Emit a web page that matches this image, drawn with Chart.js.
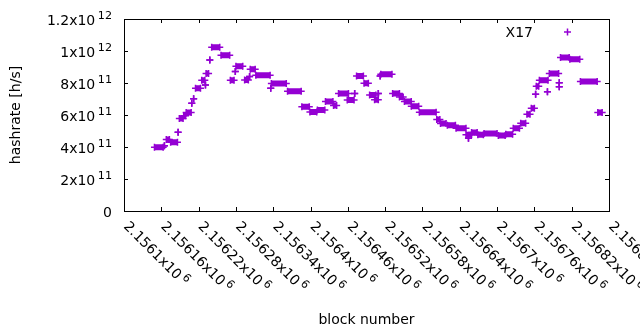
<!DOCTYPE html>
<html>
<head>
<meta charset="utf-8">
<title>X17 hashrate</title>
<script src="https://cdn.jsdelivr.net/npm/chart.js@4.4.1/dist/chart.umd.min.js"></script>
<style>
    html, body { margin: 0; padding: 0; background: #fff; }
    #chart { display: block; }
</style>
</head>
<body>
<canvas id="chart" width="640" height="330"></canvas>
<script>
// Each run is a stretch of blocks that share the same hashrate value
const runStart = [
    2156149, 2156165, 2156168, 2156175, 2156187, 2156189, 2156196, 2156200, 2156209, 2156212,
    2156215, 2156225, 2156231, 2156232, 2156238, 2156241, 2156256, 2156271, 2156279, 2156280,
    2156294, 2156302, 2156303, 2156312, 2156336, 2156337, 2156363, 2156386, 2156399, 2156411,
    2156424, 2156437, 2156445, 2156459, 2156471, 2156474, 2156486, 2156495, 2156503, 2156509,
    2156512, 2156513, 2156532, 2156543, 2156551, 2156562, 2156575, 2156603, 2156609, 2156620,
    2156634, 2156650, 2156654, 2156659, 2156669, 2156679, 2156702, 2156714, 2156726, 2156738,
    2156748, 2156755, 2156762, 2156763, 2156768, 2156781, 2156784, 2156800, 2156800, 2156802,
    2156817, 2156834, 2156862
];
const runEnd = [
    2156163, 2156165, 2156173, 2156186, 2156187, 2156195, 2156199, 2156208, 2156209, 2156212,
    2156223, 2156230, 2156231, 2156236, 2156238, 2156254, 2156270, 2156277, 2156279, 2156291,
    2156300, 2156302, 2156311, 2156335, 2156336, 2156361, 2156385, 2156398, 2156410, 2156423,
    2156436, 2156442, 2156461, 2156470, 2156471, 2156485, 2156493, 2156505, 2156509, 2156509,
    2156512, 2156531, 2156543, 2156549, 2156562, 2156574, 2156602, 2156608, 2156618, 2156633,
    2156650, 2156659, 2156654, 2156668, 2156678, 2156700, 2156713, 2156725, 2156736, 2156746,
    2156753, 2156760, 2156762, 2156767, 2156782, 2156781, 2156799, 2156800, 2156800, 2156816,
    2156833, 2156861, 2156869
];
const runValue = [
    3.98e11, 4.08e11, 4.47e11, 4.29e11, 4.92e11, 5.78e11, 5.95e11, 6.15e11, 6.73e11, 7.02e11,
    7.67e11, 8.17e11, 7.88e11, 8.6e11, 9.44e11, 10.24e11, 9.73e11, 8.17e11, 8.72e11, 9.04e11,
    8.19e11, 8.4e11, 8.86e11, 8.49e11, 7.67e11, 7.97e11, 7.48e11, 6.52e11, 6.19e11, 6.31e11,
    6.85e11, 6.6e11, 7.35e11, 6.94e11, 7.35e11, 8.43e11, 7.98e11, 7.25e11, 6.95e11, 7.35e11,
    8.44e11, 8.54e11, 7.35e11, 7.13e11, 6.85e11, 6.54e11, 6.17e11, 5.72e11, 5.47e11, 5.36e11,
    5.17e11, 4.77e11, 4.54e11, 4.9e11, 4.77e11, 4.85e11, 4.72e11, 4.79e11, 5.17e11, 5.48e11,
    6.05e11, 6.42e11, 7.3e11, 7.8e11, 8.17e11, 7.45e11, 8.6e11, 8.02e11, 7.77e11, 9.59e11,
    9.48e11, 8.1e11, 6.15e11
];

// Axis ticks
const xTickValues = [
    2156100, 2156160, 2156220, 2156280, 2156340, 2156400, 2156460,
    2156520, 2156580, 2156640, 2156700, 2156760, 2156820, 2156880
];
const xTickLabels = [
    '2.1561x10', '2.15616x10', '2.15622x10', '2.15628x10', '2.15634x10', '2.1564x10', '2.15646x10',
    '2.15652x10', '2.15658x10', '2.15664x10', '2.1567x10', '2.15676x10', '2.15682x10', '2.15688x10'
];
const xTickExponent = '6';
const yTickValues = [0, 2e11, 4e11, 6e11, 8e11, 1e12, 1.2e12];
const yTickLabels = ['0', '2x10', '4x10', '6x10', '8x10', '1x10', '1.2x10'];
const yTickExponents = ['', '11', '11', '11', '11', '12', '12'];

const seriesLabel = 'X17';
const xTitle = 'block number';
const yTitle = 'hashrate [h/s]';

const PURPLE = '#9400d3';
const FONT = '"DejaVu Sans", sans-serif';
const TICK = 4;
const SUP_GAP = 2.5;
const SUP_RISE = 5.5;

// Two points per run, then a null to break the line before the next run
const points = [];
runStart.forEach((start, i) => {
    points.push({ x: start, y: runValue[i] });
    points.push({ x: runEnd[i], y: runValue[i] });
    points.push({ x: runEnd[i], y: null });
});

// Text like 1x10 with a raised exponent
function powerWidth(ctx, base, exp) {
    ctx.font = '14px ' + FONT;
    let w = ctx.measureText(base).width;
    if (exp) {
        ctx.font = '11.2px ' + FONT;
        w += SUP_GAP + ctx.measureText(exp).width;
    }
    return w;
}

function drawPower(ctx, base, exp, x, y) {
    ctx.font = '14px ' + FONT;
    ctx.fillText(base, x, y);
    if (!exp) return;
    const w = ctx.measureText(base).width;
    ctx.font = '11.2px ' + FONT;
    ctx.fillText(exp, x + w + SUP_GAP, y - SUP_RISE);
}

// Frame, mirrored inward ticks, tick labels, titles and key in gnuplot style
const gnuplotAxes = {
    id: 'gnuplotAxes',
    beforeDatasetsDraw(chart) {
        const { ctx, chartArea: area, scales: { x, y } } = chart;
        ctx.save();
        ctx.strokeStyle = '#000';
        ctx.fillStyle = '#000';
        ctx.lineWidth = 1;

        ctx.beginPath();
        yTickValues.forEach(v => {
            const py = Math.round(y.getPixelForValue(v)) + 0.5;
            ctx.moveTo(area.left, py);
            ctx.lineTo(area.left + TICK, py);
            ctx.moveTo(area.right, py);
            ctx.lineTo(area.right - TICK, py);
        });
        xTickValues.forEach(v => {
            const px = Math.round(x.getPixelForValue(v)) + 0.5;
            ctx.moveTo(px, area.bottom);
            ctx.lineTo(px, area.bottom - TICK);
            ctx.moveTo(px, area.top);
            ctx.lineTo(px, area.top + TICK);
        });
        ctx.stroke();
        ctx.strokeRect(area.left + 0.5, area.top + 0.5, area.right - area.left, area.bottom - area.top);

        // y tick labels, right aligned
        ctx.textAlign = 'left';
        ctx.textBaseline = 'alphabetic';
        yTickValues.forEach((v, i) => {
            const py = y.getPixelForValue(v);
            const w = powerWidth(ctx, yTickLabels[i], yTickExponents[i]);
            drawPower(ctx, yTickLabels[i], yTickExponents[i], 112 - w, py + 5.7);
        });

        // x tick labels, rotated down to the right
        xTickValues.forEach((v, i) => {
            const px = x.getPixelForValue(v);
            ctx.save();
            ctx.translate(px - 1, 227);
            ctx.rotate(Math.PI / 4);
            drawPower(ctx, xTickLabels[i], xTickExponent, 0, 0);
            ctx.restore();
        });

        // axis titles
        ctx.font = '14px ' + FONT;
        ctx.textAlign = 'center';
        ctx.fillText(xTitle, (area.left + area.right) / 2, 323.5);
        ctx.save();
        ctx.translate(20.4, (area.top + area.bottom) / 2);
        ctx.rotate(-Math.PI / 2);
        ctx.fillText(yTitle, 0, 0);
        ctx.restore();

        // key: label then a sample point
        ctx.textAlign = 'right';
        ctx.fillText(seriesLabel, 533, 37);
        ctx.strokeStyle = PURPLE;
        ctx.lineWidth = 1.5;
        ctx.beginPath();
        ctx.moveTo(564, 32);
        ctx.lineTo(571, 32);
        ctx.moveTo(567.5, 28.5);
        ctx.lineTo(567.5, 35.5);
        ctx.stroke();

        ctx.restore();
    }
};

new Chart(document.getElementById('chart'), {
    type: 'scatter',
    data: {
        datasets: [{
            label: seriesLabel,
            data: points,
            showLine: true,
            spanGaps: false,
            borderColor: PURPLE,
            backgroundColor: PURPLE,
            borderWidth: 6,
            borderCapStyle: 'butt',
            pointStyle: 'cross',
            pointRadius: 3.5,
            pointBorderWidth: 1.5,
            pointBorderColor: PURPLE
        }]
    },
    options: {
        responsive: false,
        animation: false,
        devicePixelRatio: 1,
        events: [],
        layout: {
            padding: { left: 124, right: 31, top: 19, bottom: 119 }
        },
        scales: {
            x: { type: 'linear', display: false, min: 2156100, max: 2156880 },
            y: { type: 'linear', display: false, min: 0, max: 1.2e12 }
        },
        plugins: {
            legend: { display: false },
            tooltip: { enabled: false }
        }
    },
    plugins: [gnuplotAxes]
});
</script>
</body>
</html>
